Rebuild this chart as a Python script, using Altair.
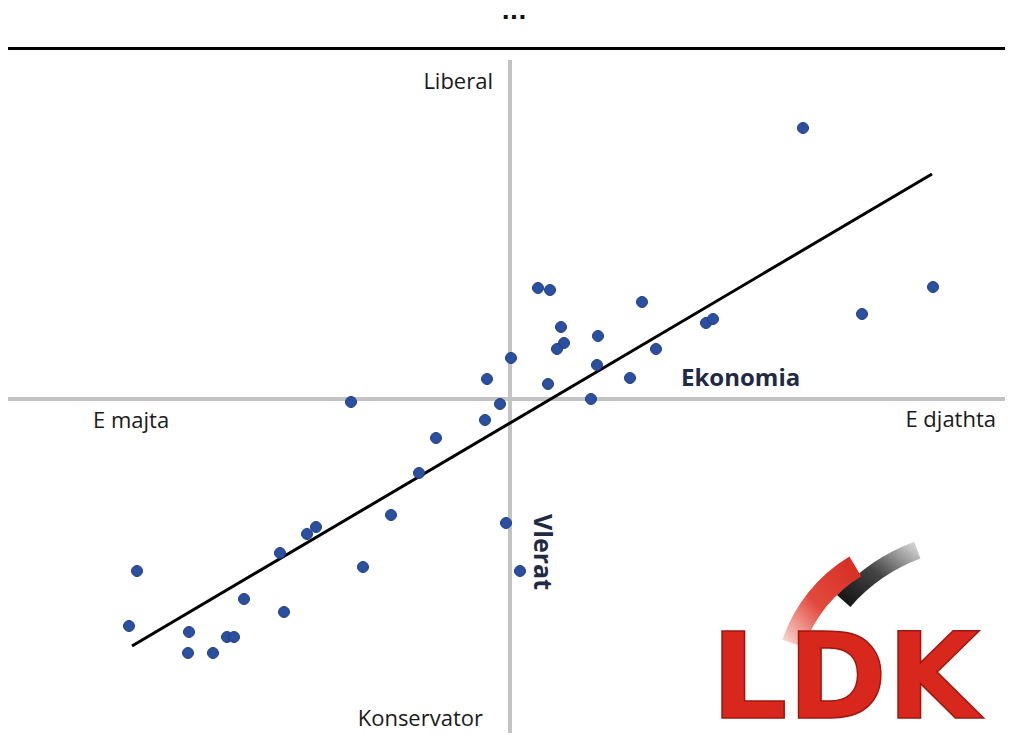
import altair as alt
import pandas as pd

# ---- data (units: arbitrary position scale, origin at the axes crossing) ----
pt_x = [0.56, 0.80, 2.64, 1.02, 1.76, 1.08, 0.94, 2.92, 0.02, 1.74,
        -0.46, 2.40, 0.76, -3.18, -0.20, 1.62, -0.50, -1.48, -1.82, -2.38,
        -0.08, -3.88, -4.06, -4.60, -7.46, -2.94, 0.20, -5.32, -4.52, -7.62,
        -6.42, -5.66, -5.52, -6.44, -5.94, 5.86, 8.46, 7.04, 3.92, 4.06]
pt_y = [2.22, 2.18, 1.94, 1.44, 1.26, 1.12, 1.00, 1.00, 0.82, 0.68,
        0.40, 0.42, 0.30, -0.06, -0.10, 0.00, -0.42, -0.78, -1.48, -2.32,
        -2.48, -2.56, -2.70, -3.08, -3.44, -3.36, -3.44, -4.00, -4.26, -4.54,
        -4.66, -4.76, -4.76, -5.08, -5.08, 5.42, 2.24, 1.70, 1.52, 1.60]

trend_x = [-7.56, 8.44]
trend_y = [-4.94, 4.50]

label_text = ["Liberal", "E majta", "E djathta", "Konservator"]
label_x = [-0.34, -8.34, 9.72, -0.54]
label_y = [6.34, -0.44, -0.42, -6.40]
label_align = ["right", "left", "right", "right"]

X_DOM = [-10.04, 9.90]
Y_DOM = [-6.68, 7.82]
W, H = 997, 725

xs = alt.Scale(domain=X_DOM, nice=False, zero=False)
ys = alt.Scale(domain=Y_DOM, nice=False, zero=False)

pts = pd.DataFrame({"x": pt_x, "y": pt_y})
trend = pd.DataFrame({"x": trend_x, "y": trend_y})

X = lambda f="x": alt.X(f"{f}:Q", scale=xs, axis=None)
Y = lambda f="y": alt.Y(f"{f}:Q", scale=ys, axis=None)

# quadrant axes
hline = alt.Chart(pd.DataFrame({"y": [0.0]})).mark_rule(color="#c3c3c3", strokeWidth=4).encode(
    y=Y(), x=alt.value(0), x2=alt.value(W))
vline = alt.Chart(pd.DataFrame({"x": [0.0], "y": [6.78], "y2": [Y_DOM[0]]})).mark_rule(
    color="#c3c3c3", strokeWidth=4).encode(x=X(), y=Y(), y2="y2:Q")

# header
head = alt.Chart(pd.DataFrame({"x": [0.08], "y": [7.60], "t": ["..."]})).mark_text(
    font="DejaVu Sans", fontSize=22, fontWeight="bold", color="#111111", baseline="alphabetic",
    align="center").encode(x=X(), y=Y(), text="t:N")
sep = alt.Chart(pd.DataFrame({"y": [7.01]})).mark_rule(color="#000000", strokeWidth=3).encode(
    y=Y(), x=alt.value(0), x2=alt.value(W))

# points and trend
dots = alt.Chart(pts).mark_circle(size=120, color="#2b509f", opacity=1, stroke="#1c3a82",
                                  strokeWidth=1).encode(x=X(), y=Y())
line = alt.Chart(trend).mark_line(color="#000000", strokeWidth=3).encode(x=X(), y=Y())

# labels
lab_layers = []
for t, x, y, a in zip(label_text, label_x, label_y, label_align):
    lab_layers.append(
        alt.Chart(pd.DataFrame({"x": [x], "y": [y], "t": [t]})).mark_text(
            font="Open Sans", fontSize=22, color="#1a1a1a", align=a, baseline="middle"
        ).encode(x=X(), y=Y(), text="t:N"))

eko = alt.Chart(pd.DataFrame({"x": [3.42], "y": [0.40], "t": ["Ekonomia"]})).mark_text(
    font="Open Sans", fontSize=24, fontWeight="bold", color="#1f2a44", align="left",
    baseline="middle").encode(x=X(), y=Y(), text="t:N")
vle = alt.Chart(pd.DataFrame({"x": [0.64], "y": [-3.06], "t": ["Vlerat"]})).mark_text(
    font="Open Sans", fontSize=25, fontWeight="bold", color="#1f2a44", align="center",
    baseline="middle", angle=90).encode(x=X(), y=Y(), text="t:N")

# LDK logo
black_grad = alt.LinearGradient(gradient="linear", x1=0, y1=1, x2=1, y2=0, stops=[
    alt.GradientStop(color="#0d0d0d", offset=0), alt.GradientStop(color="#444444", offset=0.5),
    alt.GradientStop(color="#e6e6e6", offset=1)])
red_grad = alt.LinearGradient(gradient="linear", x1=0, y1=1, x2=1, y2=0, stops=[
    alt.GradientStop(color="#fbe3e0", offset=0), alt.GradientStop(color="#e24a3e", offset=0.45),
    alt.GradientStop(color="#d52a1f", offset=1)])

arc_black = alt.Chart(pd.DataFrame({"x": [9.40], "y": [-6.42]})).mark_arc(
    fill=black_grad, theta=5.43, theta2=5.93, radius=190, radius2=172).encode(x=X(), y=Y())
arc_red = alt.Chart(pd.DataFrame({"x": [8.40], "y": [-5.82]})).mark_arc(
    fill=red_grad, theta=5.04, theta2=5.74, radius=156, radius2=133).encode(x=X(), y=Y())
ldk = alt.Chart(pd.DataFrame({"x": [4.02], "y": [-6.38], "t": ["LDK"]})).mark_text(
    font="DejaVu Sans", fontSize=120, fontWeight="bold", color="#d8271d", stroke="#a3160f",
    strokeWidth=1.5, align="left", baseline="alphabetic").encode(x=X(), y=Y(), text="t:N")

chart = alt.layer(
    hline, vline, sep, head, line, dots, *lab_layers, eko, vle, arc_black, arc_red, ldk
).properties(width=W, height=H, padding=0, autosize=alt.AutoSizeParams(type="none")
).configure_view(stroke=None)

chart.save("out.html", embed_options={"renderer": "svg", "actions": False})
